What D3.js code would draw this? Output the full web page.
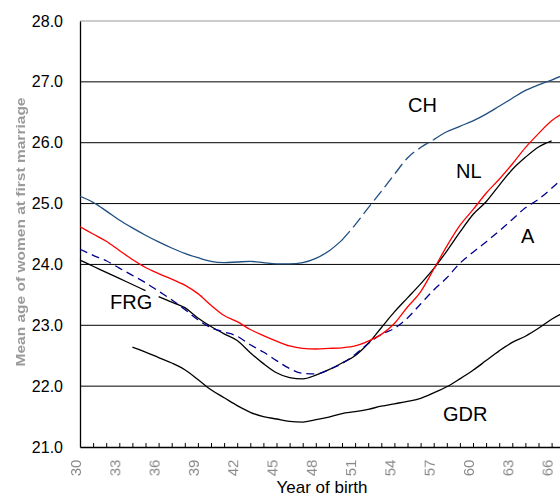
<!DOCTYPE html>
<html>
<head>
<meta charset="utf-8">
<script src="https://cdn.jsdelivr.net/npm/d3@7"></script>
<style>
  body { margin: 0; background: #fff; }
  svg { display: block; }
  text { font-family: Arial, "Liberation Sans", sans-serif; }
</style>
</head>
<body>
<svg id="chart" width="560" height="497"></svg>
<script>
// years of birth 1930 - 1967
var years = d3.range(1930, 1968);

var ch  = [25.12, 25.02, 24.88, 24.73, 24.60, 24.48, 24.37, 24.27, 24.18, 24.11,
           24.05, 24.03, 24.04, 24.05, 24.03, 24.01, 24.01, 24.03, 24.10, 24.22,
           24.40, 24.65, 24.93, 25.20, 25.48, 25.75, 25.92, 26.05, 26.18, 26.27,
           26.36, 26.47, 26.60, 26.73, 26.86, 26.95, 27.03, 27.12];
var nl  = [24.62, 24.50, 24.38, 24.23, 24.08, 23.95, 23.85, 23.76, 23.66, 23.52,
           23.33, 23.16, 23.06, 22.93, 22.83, 22.74, 22.66, 22.62, 22.61, 22.62,
           22.63, 22.66, 22.74, 22.85, 23.03, 23.30, 23.55, 23.92, 24.30, 24.64,
           24.90, 25.17, 25.40, 25.65, 25.92, 26.15, 26.36, 26.50];
var frg = [24.07, 23.97, 23.87, 23.77, 23.67, 23.57, 23.47, 23.38, 23.29, 23.12,
           22.98, 22.86, 22.75, 22.55, 22.37, 22.22, 22.14, 22.12, 22.18, 22.27,
           22.38, 22.50, 22.70, 22.96, 23.22, 23.45, 23.68, 23.93, 24.22, 24.53,
           24.82, 25.03, 25.30, 25.56, 25.76, 25.93, 26.03, null];
var a   = [24.25, 24.15, 24.06, 23.94, 23.82, 23.70, 23.56, 23.42, 23.26, 23.09,
           22.96, 22.89, 22.82, 22.68, 22.56, 22.42, 22.29, 22.21, 22.20, 22.27,
           22.37, 22.52, 22.70, 22.85, 22.95, 23.12, 23.35, 23.58, 23.78, 24.02,
           24.20, 24.37, 24.55, 24.74, 24.93, 25.07, 25.25, 25.45];
var gdr = [null, null, null, null, 22.64, 22.56, 22.47, 22.38, 22.27, 22.11,
           21.94, 21.81, 21.68, 21.57, 21.50, 21.46, 21.42, 21.41, 21.45, 21.49,
           21.55, 21.58, 21.62, 21.67, 21.71, 21.75, 21.80, 21.89, 21.99, 22.12,
           22.26, 22.42, 22.58, 22.72, 22.82, 22.95, 23.10, 23.22];

var yTicks = [21, 22, 23, 24, 25, 26, 27, 28];
var xLabelYears = d3.range(1930, 1967, 3);

var svg = d3.select("#chart");

var x = d3.scaleLinear().domain([1930, 1967]).range([80, 80 + 37 * 13.1]);
var y = d3.scaleLinear().domain([21, 28]).range([447, 21]);

var defs = svg.append("defs");
defs.append("filter").attr("id", "soft")
  .append("feGaussianBlur").attr("stdDeviation", 0.55);

// grid lines
svg.append("g").selectAll("line")
  .data(yTicks.slice(1))
  .enter().append("line")
  .attr("x1", x(1930)).attr("x2", x(1967))
  .attr("y1", function(d) { return y(d); })
  .attr("y2", function(d) { return y(d); })
  .attr("stroke", function(d) { return d === 28 ? "#999" : "#000"; })
  .attr("stroke-width", 1);

// x axis with yearly ticks
var xAxis = svg.append("g")
  .attr("transform", "translate(0," + y(21) + ")")
  .call(d3.axisBottom(x)
    .tickValues(d3.range(1931, 1967))
    .tickSize(-4)
    .tickSizeOuter(0)
    .tickFormat(""));
xAxis.select(".domain").attr("stroke", "#000").attr("stroke-width", 1.5);
xAxis.selectAll(".tick line").attr("stroke", "#000");

// y axis
var yAxis = svg.append("g")
  .attr("transform", "translate(" + x(1930) + ",0)")
  .call(d3.axisLeft(y)
    .tickValues(yTicks)
    .tickSize(0)
    .tickPadding(17)
    .tickFormat(d3.format(".1f")));
yAxis.select(".domain").attr("stroke", "#000").attr("stroke-width", 1.3);
yAxis.selectAll("text")
  .attr("font-size", 16)
  .attr("fill", "#000")
  .style("font-family", "Arial, 'Liberation Sans', sans-serif");

// faint rotated year labels
svg.append("g").selectAll("text")
  .data(xLabelYears)
  .enter().append("text")
  .attr("transform", function(d) { return "translate(" + (x(d) - 4) + ",468) rotate(-90)"; })
  .attr("text-anchor", "middle")
  .attr("dy", "0.35em")
  .attr("font-size", 15)
  .attr("fill", "#8a8a8a")
  .attr("filter", "url(#soft)")
  .text(function(d) { return String(d).slice(2); });

svg.append("text")
  .attr("x", 322).attr("y", 493)
  .attr("text-anchor", "middle")
  .attr("font-size", 17)
  .text("Year of birth");

svg.append("text")
  .attr("transform", "translate(25,232) rotate(-90)")
  .attr("text-anchor", "middle")
  .attr("font-size", 13)
  .attr("font-weight", "bold")
  .attr("textLength", 269)
  .attr("lengthAdjust", "spacingAndGlyphs")
  .attr("fill", "#9a9a9a")
  .attr("filter", "url(#soft)")
  .text("Mean age of women at first marriage");

// lines
function drawLine(values, from, to, color, dash) {
  var pts = years.map(function(yr, i) { return { yr: yr, v: values[i] }; })
    .filter(function(p) { return p.yr >= from && p.yr <= to && p.v != null; });
  var line = d3.line()
    .curve(d3.curveMonotoneX)
    .x(function(p) { return x(p.yr); })
    .y(function(p) { return y(p.v); });
  svg.append("path")
    .datum(pts)
    .attr("d", line)
    .attr("fill", "none")
    .attr("stroke", color)
    .attr("stroke-width", 1.3)
    .attr("stroke-dasharray", dash || null);
}

drawLine(gdr, 1930, 1967, "#000");
drawLine(frg, 1930, 1935, "#000");
drawLine(frg, 1936, 1967, "#000");
drawLine(a, 1930, 1967, "#00008c", "8,5");
drawLine(nl, 1930, 1967, "#ff0000");
drawLine(ch, 1930, 1950, "#1f4e80");
drawLine(ch, 1950, 1957, "#1f4e80", "12,5");
drawLine(ch, 1957, 1967, "#1f4e80");

// series labels
var seriesLabels = [
  { name: "CH", x: 408, y: 112 },
  { name: "NL", x: 456, y: 178 },
  { name: "A", x: 521, y: 243 },
  { name: "FRG", x: 110, y: 309 },
  { name: "GDR", x: 443, y: 421 }
];
svg.append("g").selectAll("text")
  .data(seriesLabels)
  .enter().append("text")
  .attr("x", function(d) { return d.x; })
  .attr("y", function(d) { return d.y; })
  .attr("font-size", 20)
  .attr("fill", "#000")
  .text(function(d) { return d.name; });
</script>
</body>
</html>
